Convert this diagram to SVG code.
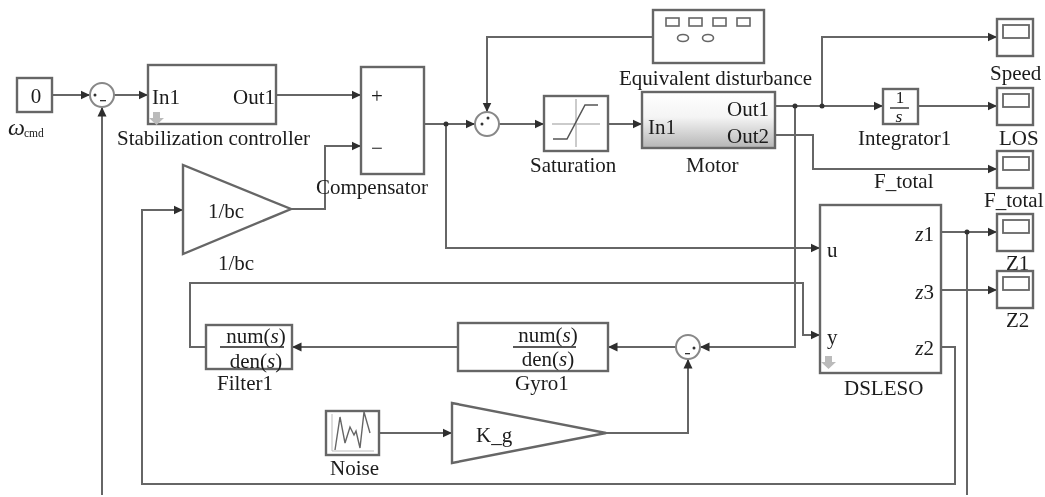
<svg xmlns="http://www.w3.org/2000/svg" width="1045" height="497" viewBox="0 0 1045 497">
<style>
text{font-family:"Liberation Serif","Times New Roman",serif;font-size:21px;fill:#1a1a1a}
.m{text-anchor:middle}
.e{text-anchor:end}
.b{fill:#fff;stroke:#666;stroke-width:2.4}
.c{fill:none;stroke:#666;stroke-width:2}
.a{marker-end:url(#ah)}
.s{fill:#fff;stroke:#888;stroke-width:2}
.d{fill:#333}
.g{fill:none;stroke:#666;stroke-width:1.6}
.i{font-style:italic}
.down{fill:#bbb}
</style>
<defs>
<marker id="ah" markerUnits="userSpaceOnUse" markerWidth="11" markerHeight="11" refX="9.500" refY="5.500" orient="auto"><path d="M0,1 L9.500,5.500 L0,10 Z" fill="#2e2e2e"/></marker>
<linearGradient id="mg" x1="0" y1="0" x2="0" y2="1"><stop offset="0" stop-color="#fff"/><stop offset="0.45" stop-color="#f4f4f4"/><stop offset="1" stop-color="#b5b5b5"/></linearGradient>
<g id="scope"><rect x="0" y="0" width="36" height="37" class="b"/><rect x="6" y="6" width="26" height="13" fill="#fff" stroke="#666" stroke-width="1.800"/></g>
<filter id="soft" x="0" y="0" width="100%" height="100%" filterUnits="userSpaceOnUse"><feGaussianBlur stdDeviation="0.4"/></filter>
</defs>
<g filter="url(#soft)">
<g id="connectors">
<path class="c a" d="M52,95H90"/>
<path class="c a" d="M114,95H148"/>
<path class="c a" d="M276,95H361"/>
<path class="c a" d="M291,209H325V146H361"/>
<path class="c a" d="M424,124H475"/>
<path class="c a" d="M446,124V248H820"/>
<path class="c a" d="M653,37H487V112"/>
<path class="c a" d="M499,124H544"/>
<path class="c a" d="M608,124H642"/>
<path class="c a" d="M775,106H883"/>
<path class="c a" d="M822,106V37H997"/>
<path class="c a" d="M918,106H997"/>
<path class="c a" d="M775,135H813V169H997"/>
<path class="c a" d="M795,106V347H700"/>
<path class="c a" d="M676,347H608"/>
<path class="c a" d="M458,347H292"/>
<path class="c a" d="M206,347H190V283H803V335H820"/>
<path class="c a" d="M379,433H452"/>
<path class="c a" d="M606,433H688V359"/>
<path class="c a" d="M941,232H997"/>
<path class="c a" d="M941,290H997"/>
<path class="c a" d="M941,347H955V484H142V210H183"/>
<path class="c" d="M967,232V495"/>
<path class="c a" d="M102,495V107"/>
<circle class="d" cx="446" cy="124" r="2.500"/>
<circle class="d" cx="795" cy="106" r="2.500"/>
<circle class="d" cx="822" cy="106" r="2.500"/>
<circle class="d" cx="967" cy="232" r="2.500"/>
</g>
<g id="constant"><rect class="b" x="17" y="78" width="35" height="34"/><text class="m" x="36" y="103">0</text><text x="8" y="135" class="i" style="font-size:24px">ω</text><text x="24" y="137" style="font-size:11.500px">cmd</text></g>
<g id="sum1"><circle class="s" cx="102" cy="95" r="12"/><circle class="d" cx="95" cy="95" r="1.500"/><rect class="d" x="100" y="100" width="6" height="1.300"/></g>
<g id="stabilization"><rect class="b" x="148" y="65" width="128" height="59"/><text x="152" y="104">In1</text><text class="e" x="275" y="104">Out1</text><path class="down" d="M153,112h7v6h4l-7.500,7l-7.500,-7h4z"/><text x="117" y="145">Stabilization controller</text></g>
<g id="gain-bc"><path class="b" d="M183,165V254L291,209Z"/><text x="208" y="218">1/bc</text><text x="218" y="270">1/bc</text></g>
<g id="compensator"><rect class="b" x="361" y="67" width="63" height="107"/><text class="m" x="377" y="103">+</text><text class="m" x="377" y="155">−</text><text x="316" y="194">Compensator</text></g>
<g id="sum2"><circle class="s" cx="487" cy="124" r="12"/><circle class="d" cx="482" cy="124" r="1.500"/><circle class="d" cx="488" cy="118" r="1.500"/></g>
<g id="disturbance"><rect class="b" x="653" y="10" width="111" height="53"/>
<rect class="g" x="666" y="18" width="13" height="8"/><rect class="g" x="689" y="18" width="13" height="8"/><rect class="g" x="713" y="18" width="13" height="8"/><rect class="g" x="737" y="18" width="13" height="8"/>
<ellipse class="g" cx="683" cy="38" rx="5.500" ry="3.500"/><ellipse class="g" cx="708" cy="38" rx="5.500" ry="3.500"/>
<text x="619" y="85">Equivalent disturbance</text></g>
<g id="saturation"><rect class="b" x="544" y="96" width="64" height="55"/><path d="M552,124H600M576,99V147" fill="none" stroke="#bbb" stroke-width="1.500"/><path d="M553,139H567L585,105H598" fill="none" stroke="#555" stroke-width="1.500"/><text x="530" y="172">Saturation</text></g>
<g id="motor"><rect x="642" y="92" width="133" height="56" fill="url(#mg)" stroke="#666" stroke-width="2.400"/><text x="648" y="134">In1</text><text class="e" x="769" y="116">Out1</text><text class="e" x="769" y="143">Out2</text><text x="686" y="172">Motor</text></g>
<g id="integrator"><rect class="b" x="883" y="89" width="35" height="35"/><text class="m" x="900" y="103" style="font-size:17px">1</text><path d="M890,108H909" stroke="#222" stroke-width="1.300"/><text class="m i" x="899" y="122" style="font-size:17.500px">s</text><text x="858" y="145">Integrator1</text></g>
<use id="scope-speed" href="#scope" x="997" y="19"/><text x="990" y="80">Speed</text>
<use id="scope-los" href="#scope" x="997" y="88"/><text x="999" y="145">LOS</text>
<use id="scope-ftotal" href="#scope" x="997" y="151"/><text x="984" y="207">F_total</text>
<use id="scope-z1" href="#scope" x="997" y="214"/><text x="1006" y="270">Z1</text>
<use id="scope-z2" href="#scope" x="997" y="271"/><text x="1006" y="327">Z2</text>
<text x="874" y="188">F_total</text>
<g id="dsleso"><rect class="b" x="820" y="205" width="121" height="168"/><text x="827" y="257">u</text><text x="827" y="344">y</text><text class="e" x="934" y="241"><tspan class="i">z</tspan>1</text><text class="e" x="934" y="299"><tspan class="i">z</tspan>3</text><text class="e" x="934" y="355"><tspan class="i">z</tspan>2</text><path class="down" d="M825,356h7v6h4l-7.500,7l-7.500,-7h4z"/><text x="844" y="395">DSLESO</text></g>
<g id="sum3"><circle class="s" cx="688" cy="347" r="12"/><circle class="d" cx="694" cy="348" r="1.500"/><rect class="d" x="685" y="353" width="5" height="1.300"/></g>
<g id="gyro"><rect class="b" x="458" y="323" width="150" height="48"/><text class="m" x="548" y="342">num(<tspan class="i">s</tspan>)</text><path d="M513,347H576" stroke="#222" stroke-width="1.300"/><text class="m" x="548" y="366">den(<tspan class="i">s</tspan>)</text><text x="515" y="390">Gyro1</text></g>
<g id="filter"><rect class="b" x="206" y="325" width="86" height="44"/><text class="m" x="256" y="343">num(<tspan class="i">s</tspan>)</text><path d="M220,347H284" stroke="#222" stroke-width="1.300"/><text class="m" x="256" y="368">den(<tspan class="i">s</tspan>)</text><text x="217" y="390">Filter1</text></g>
<g id="noise"><rect class="b" x="326" y="411" width="53" height="44"/><path d="M332,414V451H374" fill="none" stroke="#bbb"/><path d="M335,450L340,417L345,443L350,427L354,435L356,431L360,448L364,412L370,433" fill="none" stroke="#666" stroke-width="1.400"/><text x="330" y="475">Noise</text></g>
<g id="gain-kg"><path class="b" d="M452,403V463L606,433Z"/><text x="476" y="442">K_g</text></g>
</g>
</svg>
